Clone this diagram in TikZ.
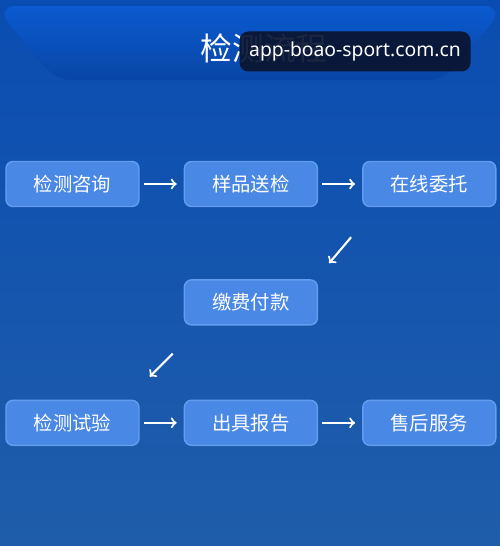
\documentclass[tikz,border=0pt]{standalone}
\usepackage{fontspec}
\newfontfamily\cjk{Noto Sans CJK SC}
\newfontfamily\wmfont{Noto Sans}
\usetikzlibrary{positioning}
\definecolor{bgtop}{HTML}{0A4DB2}
\definecolor{bgbot}{HTML}{1F5DAA}
\definecolor{bandtop}{HTML}{0B5AD0}
\definecolor{bandbot}{HTML}{0846A6}
\definecolor{boxfill}{HTML}{4A88E6}
\definecolor{boxline}{HTML}{629DF0}
\definecolor{wmbg}{HTML}{0A1430}

\tikzset{
  stepbox/.style={draw=boxline, line width=0.8pt, fill=boxfill, rounded corners=4pt,
    minimum width=2.66cm, minimum height=0.9cm, inner sep=0pt,
    text=white, font=\cjk\fontsize{11}{13}\selectfont},
  flow/.style={->, draw=white, line width=1.2pt, shorten <=0.08cm, shorten >=0.14cm},
  slant/.style={->, draw=white, line width=1.2pt}
}

\begin{document}
\begin{tikzpicture}
  \shade[top color=bgtop, bottom color=bgbot] (0,0) rectangle (10,-10.92);
  \useasboundingbox (0,0) rectangle (10,-10.92);

  % header band
  \shade[top color=bandtop, bottom color=bandbot]
    (0.3,-0.12) -- (9.7,-0.12) .. controls (9.95,-0.12) and (9.95,-0.35) .. (9.8,-0.5)
    .. controls (9.3,-1.1) and (9.0,-1.6) .. (8.6,-1.6) -- (1.4,-1.6)
    .. controls (1.0,-1.6) and (0.7,-1.1) .. (0.2,-0.5)
    .. controls (0.05,-0.35) and (0.05,-0.12) .. (0.3,-0.12) -- cycle;
  \node[text=white, font=\cjk\fontsize{18}{20}\selectfont] (title) at (5.28,-0.96) {检测流程};
  \node[fill=wmbg, fill opacity=0.92, text opacity=1, text=white, rounded corners=5pt,
    minimum width=4.62cm, minimum height=0.8cm, inner sep=0pt,
    font=\wmfont\fontsize{11}{13}\selectfont] (mark) at (7.1,-1.03) {app-boao-sport.com.cn};

  % steps
  \node[stepbox] (consult) at (1.45,-3.68) {检测咨询};
  \node[stepbox, right=0.88cm of consult] (sample) {样品送检};
  \node[stepbox, right=0.88cm of sample] (entrust) {在线委托};
  \node[stepbox, below=1.44cm of sample] (pay) {缴费付款};
  \node[stepbox, below=1.48cm of pay] (report) {出具报告};
  \node[stepbox, left=0.88cm of report] (test) {检测试验};
  \node[stepbox, right=0.88cm of report] (service) {售后服务};

  \coordinate (d1s) at ([shift={(-0.22,-0.6)}]entrust.south west);
  \coordinate (d1e) at ([shift={(-0.66,-1.12)}]entrust.south west);
  \coordinate (d2s) at ([shift={(-0.22,-0.56)}]pay.south west);
  \coordinate (d2e) at ([shift={(-0.68,-1.02)}]pay.south west);

  \draw[flow] (consult) -- (sample);
  \draw[flow] (sample) -- (entrust);
  \draw[slant] (d1s) -- (d1e);
  \draw[slant] (d2s) -- (d2e);
  \draw[flow] (test) -- (report);
  \draw[flow] (report) -- (service);
\end{tikzpicture}
\end{document}
